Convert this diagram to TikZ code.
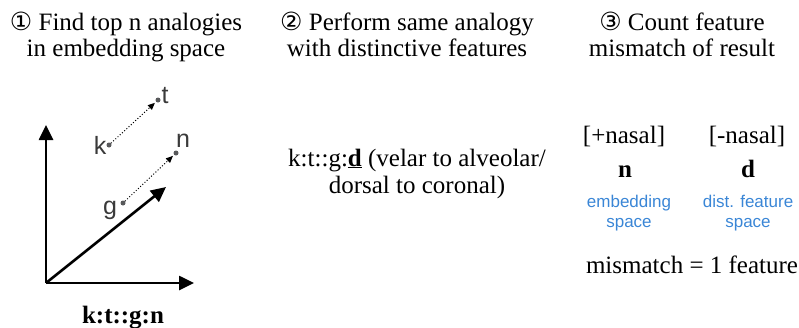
\documentclass[tikz,border=0pt]{standalone}
\usepackage{fontspec}
\setmainfont{Liberation Serif}
\setsansfont{Liberation Sans}
\newfontfamily\circfont{DejaVu Sans}
\usetikzlibrary{arrows.meta,calc}
\definecolor{PtGray}{HTML}{58595B}
\definecolor{LblGray}{HTML}{3A3A3A}
\definecolor{SpaceBlue}{HTML}{3A86D6}

\begin{document}
\begin{tikzpicture}[x=1pt,y=-1pt,
    steptitle/.style={
      align=center,
      inner sep=0pt,
      anchor=base,
      font=\fontsize{25}{26}\selectfont
    },
    bodytext/.style={
      align=center,
      inner sep=0pt,
      anchor=base,
      font=\fontsize{25}{27}\selectfont
    },
    boldletter/.style={
      inner sep=0pt,
      anchor=base,
      font=\fontsize{25}{27}\selectfont\bfseries
    },
    spacelabel/.style={
      align=center,
      inner sep=0pt,
      anchor=base,
      text=SpaceBlue,
      font=\sffamily\fontsize{17}{20}\selectfont
    },
    ptlabel/.style={
      inner sep=0pt,
      text=LblGray,
      font=\sffamily\fontsize{25}{27}\selectfont
    },
    vecpt/.style={
      circle,
      fill=PtGray,
      inner sep=0pt,
      minimum size=5pt
    },
    axisarrow/.style={
      -{Triangle[length=15pt,width=14pt]},
      line width=2.6pt
    },
    analogy/.style={
      -{Triangle[length=7pt,width=6pt]},
      dotted,
      line width=1pt,
      shorten >=1.5pt
    }]

    \useasboundingbox (0,0) rectangle (799,327);

    % Step titles (base = last line)
    \node[steptitle] (title1) at (126,56) {{\circfont ①} Find top n analogies\\in embedding space};
    \node[steptitle] (title2) at (407,56) {{\circfont ②} Perform same analogy\\with distinctive features};
    \node[steptitle] (title3) at (682,56) {{\circfont ③} Count feature\\mismatch of result};

    % Embedding space axes
    \coordinate (origin) at (46,283);
    \coordinate (ytip) at (46,125);
    \coordinate (xtip) at (194,283);
    \coordinate (vtip) at (166,187);
    \draw[axisarrow] (origin) -- (ytip);
    \draw[axisarrow] (origin) -- (xtip);
    \draw[axisarrow] (origin) -- (vtip);

    % Word vectors
    \node[vecpt] (k) at (109,145) {};
    \node[vecpt] (t) at (158,100) {};
    \node[vecpt] (g) at (123,203) {};
    \node[vecpt] (n) at (176,153) {};
    \node[ptlabel] (klab) at (100,145) {k};
    \node[ptlabel] (tlab) at (165,96) {t};
    \node[ptlabel] (glab) at (110,210) {g};
    \node[ptlabel] (nlab) at (183,141) {n};
    \draw[analogy] (k) -- (t);
    \draw[analogy] (g) -- (n);

    \node[boldletter] (kgn) at (123,323) {k:t::g:n};

    % Step 2
    \node[bodytext] (rule) at (417,193) {k:t::g:\underline{\textbf{d}} (velar to alveolar/\\dorsal to coronal)};

    % Step 3
    \node[bodytext] (plusnas) at (624,143) {[+nasal]};
    \node[bodytext] (minusnas) at (747,143) {[-nasal]};
    \node[boldletter] (nres) at (625,177) {n};
    \node[boldletter] (dres) at (748,177) {d};
    \node[spacelabel] (embsp) at (629,227) {embedding\\space};
    \node[spacelabel] (featsp) at (748,227) {dist. feature\\space};
    \node[bodytext] (mismatch) at (692,273) {mismatch = 1 feature};
  \end{tikzpicture}
\end{document}
